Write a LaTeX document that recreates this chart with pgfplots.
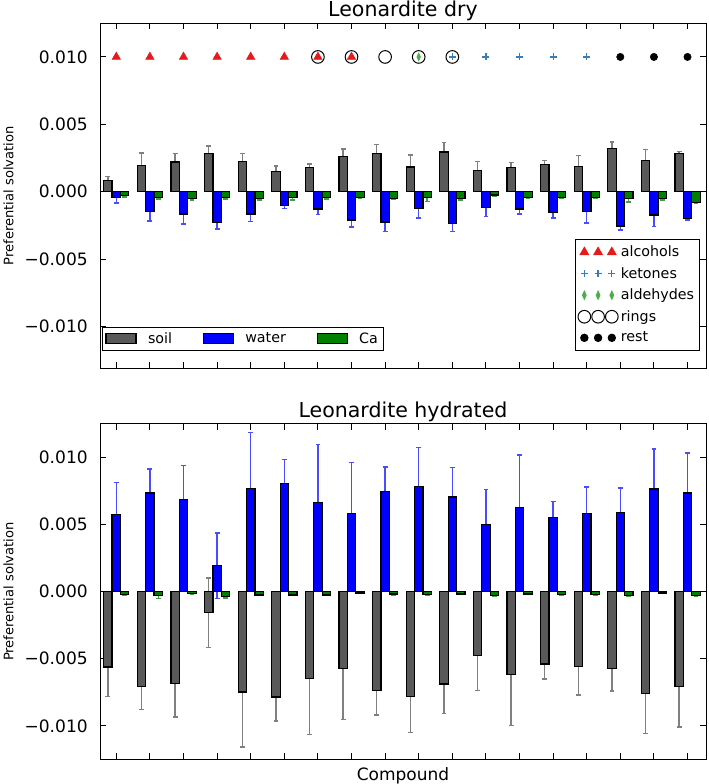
\documentclass[border=0pt]{standalone}
\usepackage{fontspec}
\setmainfont{DejaVu Sans}
\usepackage{pgfplots}
\pgfplotsset{compat=1.18}
\usepackage{pgfplotstable}

\definecolor{soilc}{gray}{0.35}
\definecolor{waterc}{rgb}{0,0,1}
\definecolor{cac}{rgb}{0,0.5,0}
\definecolor{soilerr}{gray}{0.5}
\definecolor{watererr}{rgb}{0.3,0.3,1}
\definecolor{caerr}{rgb}{0.3,0.6,0.3}
\definecolor{alcc}{HTML}{E41A1C}
\definecolor{ketc}{HTML}{377EB8}
\definecolor{aldc}{HTML}{4DAF4A}

% Leonardite dry
\pgfplotstableread{
soil     se       water     we       ca        ce
0.00082  0.0003   -0.00045  0.0004   -0.0003   0.0001
0.00196  0.0009   -0.00144  0.00074  -0.0004   0.00015
0.0022   0.00065  -0.00166  0.00074  -0.0005   0.0001
0.00285  0.00055  -0.0023   0.00047  -0.00045  0.0001
0.00223  0.0006   -0.00166  0.00057  -0.0005   0.0001
0.00151  0.0004   -0.001    0.00025  -0.00045  0.00015
0.00178  0.00027  -0.00129  0.0004   -0.00045  0.0001
0.0026   0.00057  -0.0021   0.00052  -0.0004   0.0001
0.00285  0.00067  -0.00225  0.0007   -0.0005   0.00008
0.00183  0.0009   -0.00126  0.0007   -0.00042  0.0003
0.00295  0.0007   -0.00233  0.00064  -0.0005   0.0001
0.00156  0.00067  -0.00116  0.00067  -0.00025  0.0001
0.00178  0.00037  -0.00129  0.00035  -0.0004   0.0001
0.002    0.0003   -0.00156  0.0004   -0.0004   0.0001
0.0019   0.0008   -0.00146  0.00087  -0.0004   0.0001
0.0032   0.0005   -0.00255  0.0003   -0.0005   0.00025
0.00233  0.0008   -0.00173  0.00085  -0.0005   0.0001
0.00285  0.00012  -0.00196  0.00015  -0.0008   0.00005
}\dry

% Leonardite hydrated
\pgfplotstableread{
soil      se      water    we       ca        ce
-0.00562  0.0022  0.00577  0.00235  -0.0002   0.00005
-0.00708  0.0017  0.00735  0.0018   -0.0003   0.0002
-0.00686  0.0025  0.0069   0.0025   -0.00012  0.00005
-0.00158  0.0026  0.00193  0.00245  -0.00037  0.0001
-0.00748  0.0041  0.00767  0.0042   -0.00025  0.00005
-0.00785  0.0018  0.00807  0.0018   -0.00025  0.00005
-0.00646  0.0042  0.00666  0.0043   -0.00025  0.00005
-0.00572  0.0038  0.00582  0.0038   -0.0001   0.00005
-0.00738  0.0018  0.00748  0.0018   -0.00018  0.00008
-0.0078   0.0027  0.00785  0.0029   -0.0002   0.00005
-0.00688  0.0022  0.00705  0.0022   -0.00018  0.00005
-0.00478  0.0026  0.00502  0.0026   -0.0003   0.00005
-0.00619  0.0038  0.00629  0.0039   -0.00018  0.00005
-0.0054   0.0011  0.00554  0.0012   -0.00022  0.00005
-0.0056   0.0021  0.00582  0.002    -0.00022  0.00005
-0.00572  0.0017  0.00592  0.0018   -0.0003   0.00005
-0.00757  0.003   0.00765  0.003    -0.0001   0.00005
-0.00708  0.003   0.00735  0.003    -0.0003   0.00005
}\hyd

\pgfplotsset{
  panel/.style={
    scale only axis, width=454.5pt,
    xmin=-0.485, xmax=17.55,
    xtick={0,...,17}, xticklabels={},
    ytick={-0.01,-0.005,0,0.005,0.01},
    yticklabels={−0.010,−0.005,0.000,0.005,0.010},
    scaled y ticks=false,
    tick align=inside, major tick length=4.5pt,
    tick style={black, line width=0.75pt},
    axis line style={black, line width=0.75pt},
    yticklabel style={font=\fontsize{12.8}{15}\selectfont, inner sep=0pt, xshift=-9pt},
    every axis title/.style={font=\fontsize{15.4}{18}\selectfont, at={(0.5,1)}, anchor=base, yshift=5pt},
    ylabel={Preferential solvation},
    ylabel style={font=\fontsize{9.8}{12}\selectfont, at={(axis description cs:-0.151,0.5)}, anchor=center},
  },
  errs/.style={ybar, bar width=0.25, bar shift=0pt, draw=none, fill=none, forget plot,
    line width=1.1pt,
    error bars/.cd, y dir=both, y explicit,
    error bar style={draw=#1, line width=1.1pt},
    error mark options={rotate=90, draw=#1, line width=1.1pt, mark size=1.8pt}},
  bars/.style={ybar, bar width=0.25, bar shift=0pt, fill=#1, draw=black, line width=0.9pt, forget plot},
  mleg/.style={legend image code/.code={\draw[only marks,##1] plot coordinates {(4pt,0pt)(14.3pt,0pt)(24.6pt,0pt)};}},
}

\begin{document}
\begin{tikzpicture}
\useasboundingbox (0,0) rectangle (531.75pt,588pt);

% ---------- top panel ----------
\begin{axis}[panel, at={(75pt,311.8pt)}, anchor=south west, height=258.75pt,
  ymin=-0.0131, ymax=0.0125, title={Leonardite dry},
  legend style={at={(0.990,0.050)}, anchor=south east, draw=black, line width=0.75pt,
    font=\fontsize{10.7}{13}\selectfont, row sep=2.5pt, inner xsep=2pt, inner ysep=3pt},
  legend cell align=left]
\addplot[errs=soilerr] table[x expr=\coordindex-0.25, y=soil, y error=se]{\dry};
\addplot[errs=watererr] table[x expr=\coordindex, y=water, y error=we]{\dry};
\addplot[errs=caerr] table[x expr=\coordindex+0.25, y=ca, y error=ce]{\dry};
\addplot[bars=soilc] table[x expr=\coordindex-0.25, y=soil]{\dry};
\addplot[bars=waterc] table[x expr=\coordindex, y=water]{\dry};
\addplot[bars=cac] table[x expr=\coordindex+0.25, y=ca]{\dry};

\addplot[only marks, mleg, mark=triangle*, mark size=3.6pt, color=alcc]
  coordinates {(0,0.01)(1,0.01)(2,0.01)(3,0.01)(4,0.01)(5,0.01)(6,0.01)(7,0.01)};
\addlegendentry{alcohols}
\addplot[only marks, mleg, mark=+, mark size=2.6pt, color=ketc, line width=0.9pt]
  coordinates {(10,0.01)(11,0.01)(12,0.01)(13,0.01)(14,0.01)};
\addlegendentry{ketones}
\addplot[only marks, mleg, mark=diamond*, mark size=3pt, mark options={xscale=0.6}, color=aldc]
  coordinates {(9,0.01)};
\addlegendentry{aldehydes}
\addplot[only marks, mleg, mark=o, mark size=4.75pt, color=black, line width=0.75pt]
  coordinates {(6,0.01)(7,0.01)(8,0.01)(9,0.01)(10,0.01)};
\addlegendentry{rings}
\addplot[only marks, mleg, mark=*, mark size=2.75pt, color=black]
  coordinates {(15,0.01)(16,0.01)(17,0.01)};
\addlegendentry{rest}
\end{axis}

% bar legend overlay for top panel
\begin{axis}[at={(75pt,311.8pt)}, anchor=south west, scale only axis,
  width=454.5pt, height=258.75pt, hide axis, xmin=0, xmax=1, ymin=0, ymax=1,
  legend columns=3,
  legend image code/.code={\draw[#1] (0pt,-3.85pt) rectangle (22.5pt,3.85pt);},
  legend style={at={(0.0038,0.050)}, anchor=south west, draw=black, line width=0.75pt,
    font=\fontsize{10.7}{13}\selectfont, inner xsep=2pt, inner ysep=2pt,
    /tikz/every odd column/.append style={column sep=6.5pt},
    /tikz/every even column/.append style={column sep=21pt}}]
\addlegendimage{fill=soilc, draw=black, line width=0.9pt}
\addlegendentry{soil}
\addlegendimage{fill=waterc, draw=black, line width=0.9pt}
\addlegendentry{water}
\addlegendimage{fill=cac, draw=black, line width=0.9pt}
\addlegendentry{Ca}
\end{axis}

% ---------- bottom panel ----------
\begin{axis}[panel, at={(75pt,18.5pt)}, anchor=south west, height=251.5pt,
  ymin=-0.0125, ymax=0.0125, title={Leonardite hydrated},
  xlabel={Compound},
  xlabel style={font=\fontsize{12.75}{15}\selectfont, at={(axis description cs:0.5,-0.062)}, anchor=base}]
\addplot[errs=soilerr] table[x expr=\coordindex-0.25, y=soil, y error=se]{\hyd};
\addplot[errs=watererr] table[x expr=\coordindex, y=water, y error=we]{\hyd};
\addplot[errs=caerr] table[x expr=\coordindex+0.25, y=ca, y error=ce]{\hyd};
\addplot[bars=soilc] table[x expr=\coordindex-0.25, y=soil]{\hyd};
\addplot[bars=waterc] table[x expr=\coordindex, y=water]{\hyd};
\addplot[bars=cac] table[x expr=\coordindex+0.25, y=ca]{\hyd};
\end{axis}
\end{tikzpicture}
\end{document}
